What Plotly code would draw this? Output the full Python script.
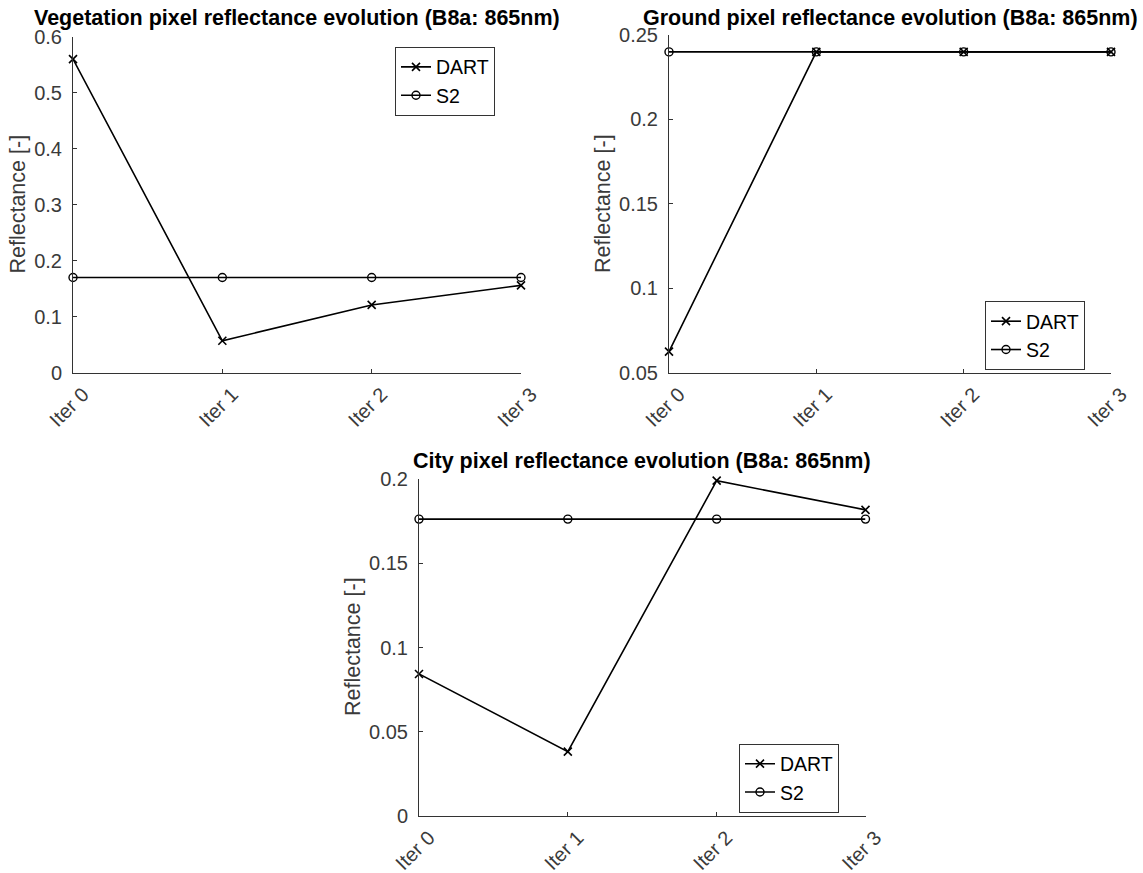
import plotly.graph_objects as go

W, H = 1143, 873

iters = ["Iter 0", "Iter 1", "Iter 2", "Iter 3"]
xpos = [0, 1, 2, 3]

veg_dart = [0.560, 0.057, 0.121, 0.156]
veg_s2 = [0.170, 0.170, 0.170, 0.170]

ground_dart = [0.0625, 0.240, 0.240, 0.240]
ground_s2 = [0.240, 0.240, 0.240, 0.240]

city_dart = [0.0843, 0.0382, 0.199, 0.1817]
city_s2 = [0.1762, 0.1762, 0.1762, 0.1762]

titles = [
    "Vegetation pixel reflectance evolution (B8a: 865nm)",
    "Ground pixel reflectance evolution (B8a: 865nm)",
    "City pixel reflectance evolution (B8a: 865nm)",
]
ylabel = "Reflectance [-]"
series_names = ["DART", "S2"]


def px(x):
    return x / W


def py(y):
    return 1 - y / H


FONT = "Liberation Sans, Arial, Helvetica, sans-serif"
AX = "#333333"
TICKC = "#3a3a3a"
TICKFS = 20
LABFS = 21.5
TITFS = 21.5
LEGFS = 19.5

fig = go.Figure()

# panel geometry in pixels: x0, x1, y0(top), y1(bottom)
panels = [
    (veg_dart, veg_s2, 73, 521, 36.7, 372.7, [0, 0.6], 0.1,
     (395, 46.7), (297, 18), (17.5, 204)),
    (ground_dart, ground_s2, 669, 1111, 35, 372.7, [0.05, 0.25], 0.05,
     (985, 301), (890, 17.5), (603, 204)),
    (city_dart, city_s2, 419, 865.5, 479, 816, [0, 0.2], 0.05,
     (739, 743.5), (642, 461), (353, 647)),
]

annotations = []
for i, (dart, s2, x0, x1, y0, y1, yr, dt, leg, tit, lab) in enumerate(panels):
    sfx = "" if i == 0 else str(i + 1)
    xa, ya = "x" + sfx, "y" + sfx
    lg = "legend" + sfx
    fig.add_trace(go.Scatter(
        x=xpos, y=dart, mode="lines+markers", name=series_names[0],
        xaxis=xa, yaxis=ya, legend=lg, cliponaxis=False,
        line=dict(color="black", width=1.6),
        marker=dict(symbol="x-thin-open", size=8, color="black",
                    line=dict(color="black", width=1.6)),
    ))
    fig.add_trace(go.Scatter(
        x=xpos, y=s2, mode="lines+markers", name=series_names[1],
        xaxis=xa, yaxis=ya, legend=lg, cliponaxis=False,
        line=dict(color="black", width=1.6),
        marker=dict(symbol="circle-open", size=8, color="black",
                    line=dict(color="black", width=1.4)),
    ))
    fig.layout["xaxis" + sfx] = dict(
        domain=[px(x0), px(x1)], anchor=ya, range=[0, 3],
        tickvals=xpos, ticktext=iters, tickangle=-45,
        showline=True, linecolor=AX, linewidth=1, mirror=False,
        ticks="inside", ticklen=4, tickcolor=AX, showgrid=False, zeroline=False,
        tickfont=dict(family=FONT, size=TICKFS, color=TICKC), automargin=False,
        ticklabelshift=10, ticklabelstandoff=1,
    )
    fig.layout["yaxis" + sfx] = dict(
        domain=[py(y1), py(y0)], anchor=xa, range=yr, dtick=dt, tick0=0,
        showline=True, linecolor=AX, linewidth=1, mirror=False,
        ticks="inside", ticklen=4, tickcolor=AX, showgrid=False, zeroline=False,
        tickfont=dict(family=FONT, size=TICKFS, color=TICKC), automargin=False,
        ticklabelstandoff=6,
    )
    fig.layout[lg] = dict(
        x=px(leg[0]), y=py(leg[1]), xanchor="left", yanchor="top",
        bgcolor="white", bordercolor=AX, borderwidth=1,
        font=dict(family=FONT, size=LEGFS, color="black"),
        tracegroupgap=0, itemwidth=30,
    )
    annotations.append(dict(
        text="<b>%s</b>" % titles[i], x=px(tit[0]), y=py(tit[1]),
        xanchor="center", yanchor="middle",
        font=dict(size=TITFS, color="black", family=FONT)))
    annotations.append(dict(
        text=ylabel, x=px(lab[0]), y=py(lab[1]), textangle=-90,
        xanchor="center", yanchor="middle",
        font=dict(size=LABFS, color=TICKC, family=FONT)))

for a in annotations:
    a.update(xref="paper", yref="paper", showarrow=False)

fig.update_layout(
    width=W, height=H, margin=dict(l=0, r=0, t=0, b=0, autoexpand=False),
    paper_bgcolor="white", plot_bgcolor="white",
    annotations=annotations, showlegend=True,
    font=dict(family=FONT),
)

fig.write_html(
    "out.html",
    config={"displayModeBar": False},
    post_script="document.body.style.margin='0px';document.body.style.overflow='hidden';",
)
